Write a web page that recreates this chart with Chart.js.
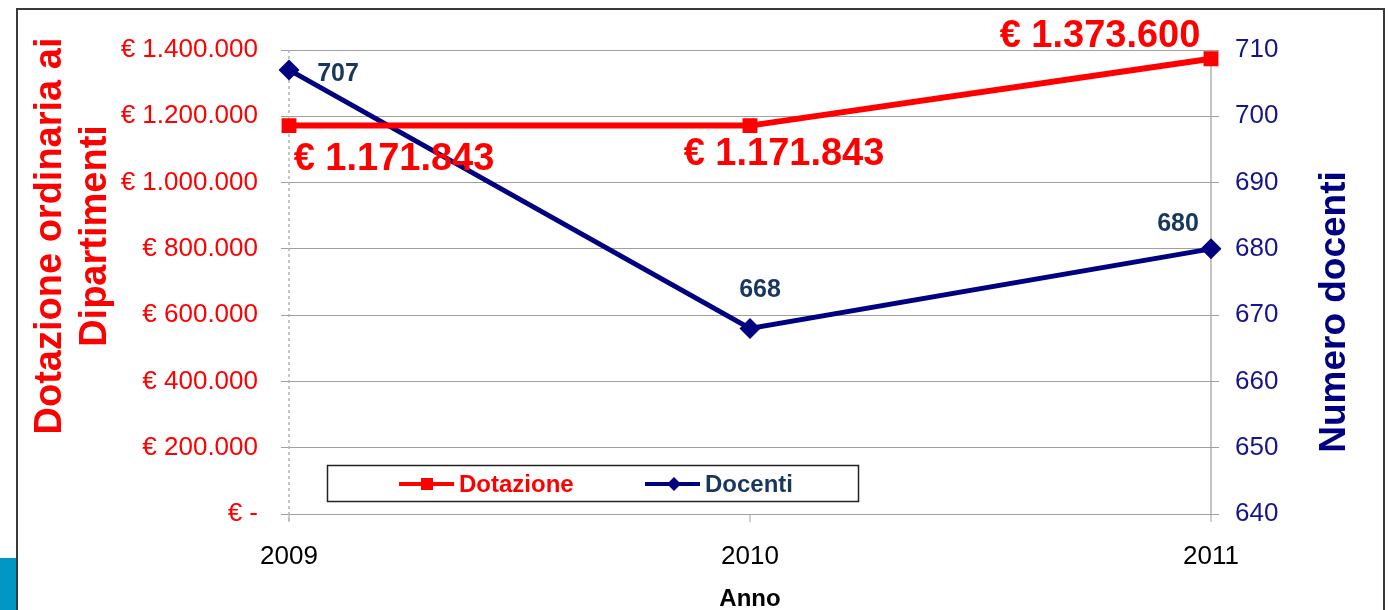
<!DOCTYPE html>
<html>
<head>
<meta charset="utf-8">
<script src="https://cdn.jsdelivr.net/npm/chart.js@4/dist/chart.umd.min.js"></script>
<style>
  html, body { margin: 0; padding: 0; background: #fff; }
  #wrap { width: 1389px; height: 610px; }
</style>
</head>
<body>
<div id="wrap"><canvas id="chart" width="1389" height="610"></canvas></div>
<script>
const years = ['2009', '2010', '2011'];
const dotazione = [1171843, 1171843, 1373600];
const docenti = [707, 668, 680];
const leftTicks = [0, 200000, 400000, 600000, 800000, 1000000, 1200000, 1400000];
const rightTicks = [640, 650, 660, 670, 680, 690, 700, 710];

const RED = '#ff0000';
const NAVY = '#000080';
const DARK_BLUE = '#17375e';
const FONT = '"Liberation Sans", Arial, sans-serif';

Chart.defaults.font.family = FONT;

function fmt(v) {
  return String(v).replace(/\B(?=(\d{3})+(?!\d))/g, '.');
}

// label offsets from each point (px)
const dotazioneLabelPos = [[105, 34], [34, 29], [-111, -22]];
const docentiLabelPos = [[49, 4], [10, -38], [-33, -25]];

const framePlugin = {
  id: 'frame',
  beforeDraw(chart) {
    const c = chart.ctx;
    c.save();
    c.fillStyle = '#ffffff';
    c.fillRect(0, 0, chart.width, chart.height);
    c.fillStyle = '#0097c4';
    c.fillRect(0, 558, 16, 52);
    c.strokeStyle = '#3a3a3a';
    c.lineWidth = 2;
    c.beginPath();
    c.moveTo(17, 610);
    c.lineTo(17, 9);
    c.lineTo(1384, 9);
    c.lineTo(1384, 610);
    c.stroke();
    c.restore();
  },
  beforeDatasetsDraw(chart) {
    // dashed line on the first category
    const c = chart.ctx;
    const x = chart.scales.x.getPixelForValue(0);
    c.save();
    c.strokeStyle = '#b4b4b4';
    c.lineWidth = 1.5;
    c.setLineDash([3, 3]);
    c.beginPath();
    c.moveTo(x, chart.chartArea.top);
    c.lineTo(x, chart.chartArea.bottom + 8);
    c.stroke();
    c.restore();
  }
};

const labelsPlugin = {
  id: 'pointLabels',
  afterDatasetsDraw(chart) {
    const c = chart.ctx;
    c.save();
    c.textAlign = 'center';
    c.textBaseline = 'middle';

    const m0 = chart.getDatasetMeta(0);
    c.fillStyle = RED;
    c.font = 'bold 38px ' + FONT;
    m0.data.forEach((pt, i) => {
      const p = dotazioneLabelPos[i];
      c.fillText('€ ' + fmt(dotazione[i]), pt.x + p[0], pt.y + p[1]);
    });

    const m1 = chart.getDatasetMeta(1);
    c.fillStyle = DARK_BLUE;
    c.font = 'bold 25px ' + FONT;
    m1.data.forEach((pt, i) => {
      const p = docentiLabelPos[i];
      c.fillText(String(docenti[i]), pt.x + p[0], pt.y + p[1]);
    });
    c.restore();
  },
  afterDraw(chart) {
    const c = chart.ctx;
    c.save();

    // axis titles
    c.textAlign = 'center';
    c.textBaseline = 'middle';
    c.fillStyle = RED;
    c.font = 'bold 38px ' + FONT;
    c.save();
    c.translate(51, 236);
    c.rotate(-Math.PI / 2);
    c.fillText('Dotazione ordinaria ai', 0, 0);
    c.fillText('Dipartimenti', 0, 45);
    c.restore();

    c.fillStyle = NAVY;
    c.font = 'bold 37px ' + FONT;
    c.save();
    c.translate(1335, 312);
    c.rotate(-Math.PI / 2);
    c.fillText('Numero docenti', 0, 0);
    c.restore();

    c.fillStyle = '#000';
    c.font = 'bold 24px ' + FONT;
    c.fillText('Anno', 750, 599);

    // legend box
    c.fillStyle = '#fff';
    c.fillRect(327, 465, 531, 36);
    c.strokeStyle = '#222';
    c.lineWidth = 1.5;
    c.strokeRect(327.5, 465.5, 531, 36);

    const ly = 484;
    c.lineWidth = 4;
    c.strokeStyle = RED;
    c.beginPath();
    c.moveTo(399, ly);
    c.lineTo(454, ly);
    c.stroke();
    c.fillStyle = RED;
    c.fillRect(421, ly - 6, 12, 12);

    c.strokeStyle = NAVY;
    c.beginPath();
    c.moveTo(645, ly);
    c.lineTo(700, ly);
    c.stroke();
    c.fillStyle = NAVY;
    c.beginPath();
    c.moveTo(674 - 7, ly);
    c.lineTo(674, ly - 7);
    c.lineTo(674 + 7, ly);
    c.lineTo(674, ly + 7);
    c.closePath();
    c.fill();

    c.textAlign = 'left';
    c.font = 'bold 24px ' + FONT;
    c.fillStyle = RED;
    c.fillText('Dotazione', 459, ly + 1);
    c.fillStyle = DARK_BLUE;
    c.fillText('Docenti', 705, ly + 1);

    c.restore();
  }
};

const ctx = document.getElementById('chart').getContext('2d');

const config = {
  type: 'line',
  data: {
    labels: years,
    datasets: [{
      label: 'Dotazione',
      data: dotazione,
      yAxisID: 'y',
      borderColor: RED,
      backgroundColor: RED,
      borderWidth: 6,
      pointStyle: 'rect',
      pointRadius: 10.5,
      pointBorderWidth: 0,
      tension: 0,
      fill: false
    }, {
      label: 'Docenti',
      data: docenti,
      yAxisID: 'y1',
      borderColor: NAVY,
      backgroundColor: NAVY,
      borderWidth: 5,
      pointStyle: 'rectRot',
      pointRadius: 10.5,
      pointBorderWidth: 0,
      tension: 0,
      fill: false
    }]
  },
  options: {
    responsive: false,
    animation: false,
    layout: { padding: { top: 50, left: 0, right: 0, bottom: 0 } },
    plugins: {
      legend: { display: false },
      tooltip: { enabled: false },
      title: { display: false }
    },
    scales: {
      x: {
        type: 'category',
        offset: false,
        afterFit(scale) { scale.height = 96; },
        grid: {
          color: (c) => (c.index === 2 ? '#c4c4c4' : 'rgba(0,0,0,0)'),
          lineWidth: 2,
          tickColor: '#a0a0a0',
          tickWidth: 1,
          tickLength: 8
        },
        border: { display: true, color: '#a0a0a0', width: 1 },
        ticks: { color: '#000', font: { size: 26 }, padding: 19, maxRotation: 0 }
      },
      y: {
        position: 'left',
        min: 0,
        max: 1400000,
        afterFit(scale) { scale.width = 289; },
        afterBuildTicks(scale) { scale.ticks = leftTicks.map(v => ({ value: v })); },
        grid: { color: '#a0a0a0', lineWidth: 1, tickLength: 8 },
        border: { display: false },
        ticks: {
          color: RED,
          font: { size: 26 },
          padding: 23,
          callback: (v) => (v === 0 ? '€ -' : '€ ' + fmt(v))
        }
      },
      y1: {
        position: 'right',
        min: 640,
        max: 710,
        afterFit(scale) { scale.width = 178; },
        afterBuildTicks(scale) { scale.ticks = rightTicks.map(v => ({ value: v })); },
        grid: { drawOnChartArea: false, tickColor: '#a0a0a0', tickLength: 8 },
        border: { display: false },
        ticks: { color: '#14148c', font: { size: 26 }, padding: 16 }
      }
    }
  },
  plugins: [framePlugin, labelsPlugin]
};

const myChart = new Chart(ctx, config);
</script>
</body>
</html>
